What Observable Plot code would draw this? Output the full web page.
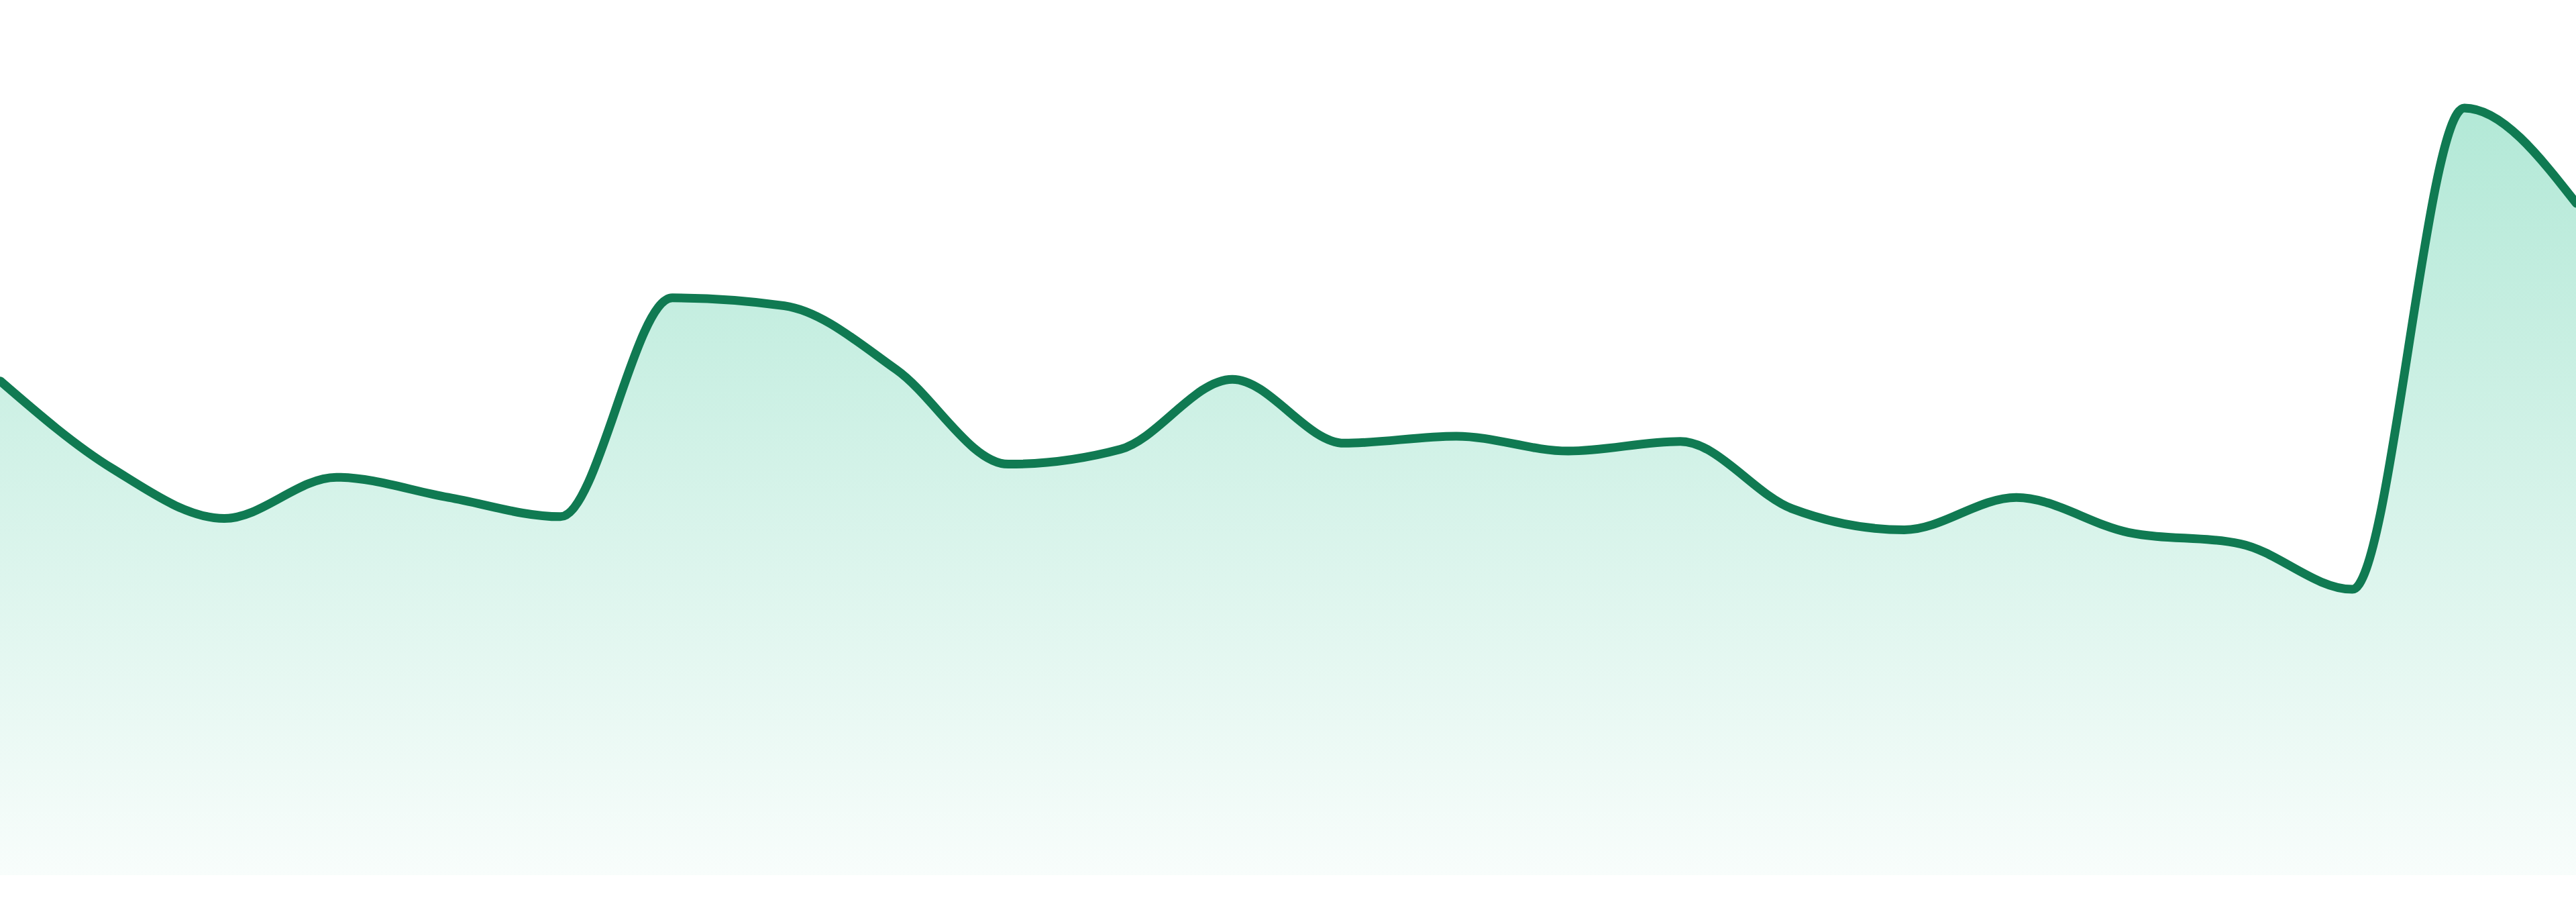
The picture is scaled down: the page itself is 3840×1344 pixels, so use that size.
<!DOCTYPE html>
<html>
<head>
<meta charset="utf-8">
<script src="https://cdn.jsdelivr.net/npm/d3@7"></script>
<script src="https://cdn.jsdelivr.net/npm/@observablehq/plot@0.6"></script>
<style>
  html, body { margin: 0; padding: 0; background: #ffffff; overflow: hidden; }
  #chart svg { display: block; }
</style>
</head>
<body>
<div id="chart"></div>
<script>
// 24 equally spaced periods
const periods = [1, 2, 3, 4, 5, 6, 7, 8, 9, 10, 11, 12, 13, 14, 15, 16, 17, 18, 19, 20, 21, 22, 23, 24];
// values (baseline 0, top of frame 100)
const values = [56.5, 46.5, 40.8, 45.5, 43.2, 41.0, 66.0, 65.1, 57.8, 47.0, 48.7, 56.7,
                49.4, 50.2, 48.5, 49.6, 41.9, 39.5, 43.2, 39.2, 37.9, 32.7, 87.7, 76.8];

const lineColor = "#107a52";
const fillColor = "#10b981";

const data = periods.map((p, i) => ({period: p, value: values[i]}));

const gradientDefs = () => {
  const g = d3.create("svg:defs");
  const grad = g.append("linearGradient")
    .attr("id", "areaFill")
    .attr("x1", 0).attr("y1", 0).attr("x2", 0).attr("y2", 1);
  grad.append("stop").attr("offset", "0%").attr("stop-color", fillColor).attr("stop-opacity", 0.32);
  grad.append("stop").attr("offset", "100%").attr("stop-color", fillColor).attr("stop-opacity", 0.03);
  return g.node();
};

const chart = Plot.plot({
  width: 3840,
  height: 1344,
  marginTop: 0,
  marginBottom: 40,
  marginLeft: 0,
  marginRight: 0,
  style: {background: "#ffffff", overflow: "hidden"},
  x: {axis: null, domain: [periods[0], periods[periods.length - 1]]},
  y: {axis: null, domain: [0, 100]},
  marks: [
    gradientDefs,
    Plot.areaY(data, {x: "period", y: "value", fill: "url(#areaFill)", curve: "monotone-x"}),
    Plot.lineY(data, {x: "period", y: "value", stroke: lineColor, strokeWidth: 13,
                      curve: "monotone-x", strokeLinejoin: "round", strokeLinecap: "round"})
  ]
});

document.getElementById("chart").appendChild(chart);
</script>
</body>
</html>
